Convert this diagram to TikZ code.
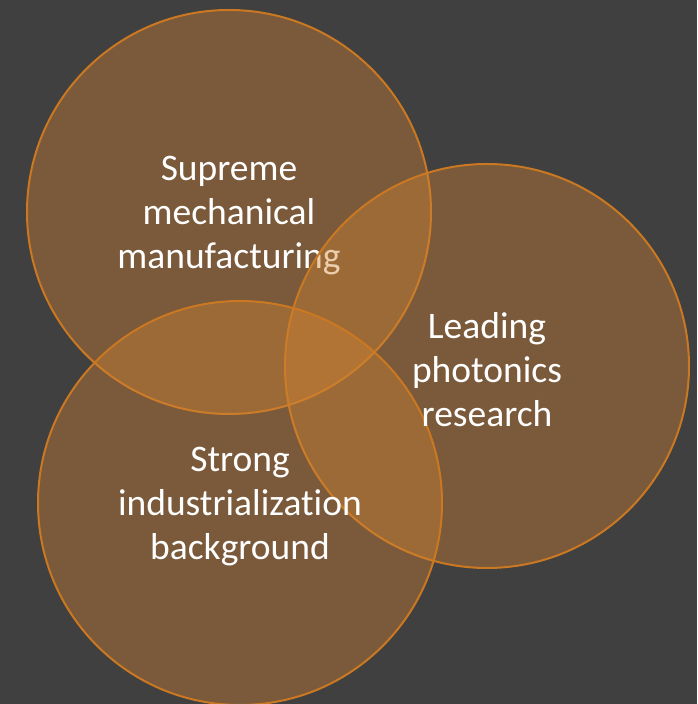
\documentclass[tikz,border=0pt]{standalone}
\usepackage{fontspec}
\setmainfont{Carlito}[Ligatures=NoCommon]
\usepackage{tikz}

\definecolor{slate}{RGB}{64,64,64}
\definecolor{amber}{RGB}{209,131,49}
\definecolor{rim}{RGB}{202,120,34}

\tikzset{
  venn/.style={fill=amber, fill opacity=0.4, draw=rim, draw opacity=1, line width=2pt},
  lbl/.style={text=white, align=center, yshift=-4pt, font=\fontsize{37.5}{44}\selectfont}
}

\begin{document}
\begin{tikzpicture}[x=1pt,y=1pt]
    \fill[slate] (0,0) rectangle (697,704);
    \useasboundingbox (0,0) rectangle (697,704);
    \begin{scope}
      \coordinate (mech) at (229,492);
      \coordinate (phot) at (487,338);
      \coordinate (indu) at (240,201);
      \draw[venn] (mech) circle (202);
      \node[lbl] (mechtext) at (mech) {Supreme\\mechanical\\manufacturing};
      \draw[venn] (phot) circle (202);
      \draw[venn] (indu) circle (202);
      \node[lbl] (phottext) at (phot) {Leading\\photonics\\research};
      \node[lbl] (indutext) at (indu) {Strong\\industrialization\\background};
    \end{scope}
  \end{tikzpicture}
\end{document}
